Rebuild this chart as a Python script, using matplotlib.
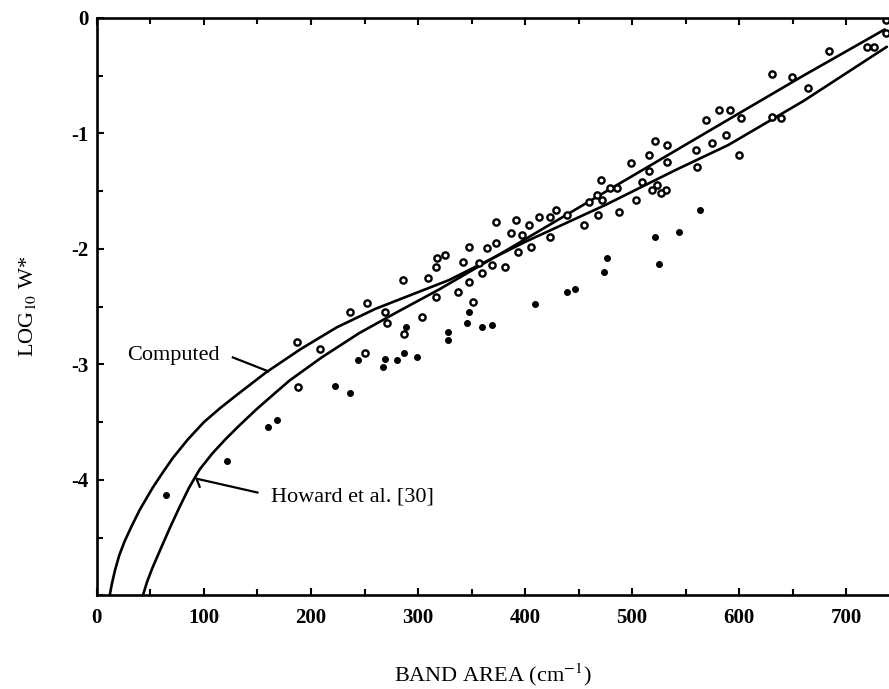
import matplotlib
matplotlib.use("Agg")
import matplotlib.pyplot as plt
from matplotlib.ticker import MultipleLocator

plt.rcParams['font.family'] = ['Liberation Serif', 'DejaVu Serif']
plt.rcParams['mathtext.fontset'] = 'stix'

# Computed band-area curve (band area, log10 W*)
computed_x = [12, 14, 17, 21, 26, 32, 40, 52, 62, 71, 85, 100, 115, 130, 158, 190, 224, 260, 329,
              400, 475, 540, 590, 660, 738]
computed_y = [-5.0, -4.90, -4.78, -4.65, -4.53, -4.41, -4.26, -4.07, -3.93, -3.81, -3.65, -3.50,
              -3.38, -3.27, -3.07, -2.87, -2.68, -2.52, -2.27, -1.94, -1.62, -1.32, -1.10, -0.72,
              -0.25]

# Howard et al. [30] curve
howard_x = [43, 47, 52, 59, 68, 77, 86, 96, 108, 120, 133, 149, 165, 180, 210, 245, 280, 320,
            383, 478, 590, 660, 736]
howard_y = [-5.0, -4.88, -4.76, -4.61, -4.42, -4.24, -4.07, -3.91, -3.77, -3.65, -3.53, -3.39,
            -3.26, -3.14, -2.94, -2.73, -2.55, -2.35, -2.01, -1.49, -0.88, -0.50, -0.10]

# Numbered measurement points
num_x = [187, 208, 188, 236, 252, 269, 271, 250, 287, 304, 286, 309, 317, 325, 317, 337, 348, 360,
         351, 348, 364, 373, 373, 342, 357, 369, 381, 392, 404, 413, 423, 429, 387, 397, 393, 406,
         423, 439, 455, 460, 467, 471, 479, 468, 472, 488, 486, 499, 504, 516, 523, 532, 516, 533,
         521, 560, 533, 600, 561, 569, 581, 591, 602, 631, 639, 664, 631, 649, 684, 719, 726, 737,
         737, 575, 588, 509, 519, 527, 318]
num_y = [-2.81, -2.87, -3.20, -2.55, -2.47, -2.55, -2.64, -2.90, -2.74, -2.59, -2.27, -2.25, -2.16,
         -2.05, -2.42, -2.37, -2.29, -2.21, -2.46, -1.98, -1.99, -1.95, -1.77, -2.11, -2.12, -2.14,
         -2.16, -1.75, -1.79, -1.72, -1.72, -1.66, -1.86, -1.88, -2.03, -1.98, -1.90, -1.71, -1.79,
         -1.59, -1.53, -1.40, -1.47, -1.71, -1.58, -1.68, -1.47, -1.26, -1.58, -1.33, -1.45, -1.49,
         -1.19, -1.10, -1.07, -1.14, -1.25, -1.19, -1.29, -0.88, -0.80, -0.80, -0.87, -0.86, -0.87,
         -0.61, -0.49, -0.51, -0.29, -0.25, -0.25, -0.02, -0.13, -1.08, -1.01, -1.42, -1.49, -1.52,
         -2.08]

# Plain dot points
dot_x = [65, 122, 160, 168, 222, 236, 244, 269, 267, 280, 287, 299, 289, 348, 346, 328, 328, 360,
         369, 409, 439, 447, 474, 477, 521, 525, 544, 563]
dot_y = [-4.13, -3.84, -3.54, -3.48, -3.19, -3.25, -2.96, -2.95, -3.02, -2.96, -2.90, -2.94, -2.68,
         -2.55, -2.64, -2.72, -2.79, -2.68, -2.66, -2.48, -2.37, -2.35, -2.20, -2.08, -1.90, -2.13,
         -1.85, -1.66]

xticks = [0, 100, 200, 300, 400, 500, 600, 700]
yticks = [0, -1, -2, -3, -4]
ytick_labels = ['0', '-1', '-2', '-3', '-4']

fig = plt.figure(figsize=(8.89, 6.89), dpi=100)
ax = fig.add_axes([0.109, 0.136, 0.891, 0.838])

ax.plot(computed_x, computed_y, color='black', lw=1.9, solid_capstyle='round',
        solid_joinstyle='round')
ax.plot(howard_x, howard_y, color='black', lw=1.9, solid_capstyle='round',
        solid_joinstyle='round')

ax.plot(num_x, num_y, linestyle='none', marker='o', markersize=4.5,
        markerfacecolor='white', markeredgecolor='black', markeredgewidth=1.7)
ax.plot(dot_x, dot_y, linestyle='none', marker='o', markersize=4,
        color='black')

# curve labels with leader lines
ax.text(28, -2.92, 'Computed', fontsize=16, va='center', ha='left')
ax.plot([127, 160], [-2.94, -3.06], color='black', lw=1.6)
ax.text(163, -4.15, 'Howard et al. [30]', fontsize=16, va='center', ha='left')
ax.plot([150, 93, 96], [-4.11, -3.99, -4.06], color='black', lw=1.6)

ax.set_xlim(0, 740)
ax.set_ylim(-5, 0)

ax.set_xticks(xticks)
ax.set_xticklabels([str(v) for v in xticks])
ax.set_yticks(yticks)
ax.set_yticklabels(ytick_labels)
ax.xaxis.set_minor_locator(MultipleLocator(50))
ax.yaxis.set_minor_locator(MultipleLocator(0.5))

ax.tick_params(which='both', direction='in', top=True, right=False, width=1.5)
ax.tick_params(which='major', length=5)
ax.tick_params(which='minor', length=4)
ax.tick_params(axis='x', which='major', pad=9)
ax.tick_params(axis='y', which='major', pad=6)
for lbl in ax.get_xticklabels() + ax.get_yticklabels():
    lbl.set_fontsize(15)
    lbl.set_fontweight('bold')

for side in ['left', 'bottom', 'top']:
    ax.spines[side].set_linewidth(1.9)
ax.spines['right'].set_visible(False)

ax.set_xlabel('BAND AREA (cm$^{-1}$)', fontsize=16, labelpad=24)
ax.set_ylabel('LOG$_{10}$ W*', fontsize=16, labelpad=24)

fig.savefig('out.png', dpi=100)
